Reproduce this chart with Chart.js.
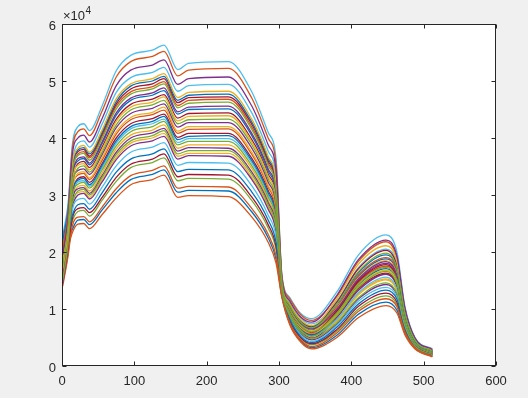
<!DOCTYPE html>
<html>
<head>
<meta charset="utf-8">
<script src="https://cdn.jsdelivr.net/npm/chart.js@4.4.1/dist/chart.umd.min.js"></script>
<style>
  body { margin: 0; background: #f0f0f0; }
  #wrap { width: 528px; height: 398px; }
</style>
</head>
<body>
<div id="wrap"><canvas id="spectra"></canvas></div>
<script>
// sample positions (channel index)
const xs = [1, 8, 14, 22, 30, 38, 55, 75, 95, 125, 141, 160, 175, 230, 262, 285, 296, 304, 315, 330, 345, 380, 410, 448, 463, 474, 488, 512];

// each spectrum, values in units of 10^4, in plotting order
const s1 = [1.80, 2.20, 2.39, 2.56, 2.57, 2.48, 2.73, 3.04, 3.27, 3.36, 3.44, 3.05, 3.08, 3.07, 2.71, 2.25, 1.87, 1.22, 0.74, 0.44, 0.32, 0.54, 0.91, 1.12, 0.98, 0.58, 0.31, 0.17];
const s2 = [1.60, 2.05, 2.33, 2.49, 2.50, 2.41, 2.65, 2.95, 3.18, 3.27, 3.35, 2.96, 2.99, 2.97, 2.62, 2.17, 1.80, 1.20, 0.72, 0.42, 0.30, 0.50, 0.85, 1.06, 0.93, 0.55, 0.30, 0.16];
const s3 = [1.55, 2.10, 2.82, 3.04, 3.06, 2.96, 3.26, 3.66, 3.91, 4.00, 4.08, 3.68, 3.73, 3.73, 3.32, 2.79, 2.38, 1.33, 0.87, 0.58, 0.47, 0.80, 1.27, 1.53, 1.34, 0.74, 0.38, 0.21];
const s4 = [1.85, 2.32, 2.79, 3.00, 3.03, 2.93, 3.22, 3.62, 3.86, 3.95, 4.03, 3.63, 3.69, 3.68, 3.28, 2.75, 2.35, 1.32, 0.86, 0.57, 0.46, 0.74, 1.18, 1.43, 1.25, 0.70, 0.36, 0.20];
const s5 = [1.75, 2.20, 2.53, 2.71, 2.73, 2.63, 2.90, 3.24, 3.48, 3.57, 3.65, 3.25, 3.29, 3.28, 2.91, 2.42, 2.04, 1.25, 0.78, 0.49, 0.37, 0.61, 1.00, 1.23, 1.08, 0.62, 0.33, 0.18];
const s6 = [1.50, 2.00, 2.71, 2.92, 2.94, 2.84, 3.13, 3.51, 3.75, 3.84, 3.92, 3.52, 3.57, 3.56, 3.17, 2.65, 2.26, 1.30, 0.84, 0.55, 0.43, 0.71, 1.14, 1.38, 1.21, 0.68, 0.35, 0.20];
const s7 = [1.45, 1.95, 2.57, 2.76, 2.78, 2.69, 2.95, 3.31, 3.54, 3.63, 3.72, 3.32, 3.36, 3.35, 2.97, 2.48, 2.09, 1.26, 0.80, 0.50, 0.39, 0.64, 1.05, 1.28, 1.12, 0.64, 0.34, 0.19];
const s8 = [1.80, 2.25, 2.63, 2.83, 2.85, 2.75, 3.03, 3.40, 3.63, 3.72, 3.81, 3.41, 3.45, 3.44, 3.06, 2.56, 2.16, 1.28, 0.82, 0.52, 0.41, 0.68, 1.09, 1.33, 1.17, 0.66, 0.34, 0.19];
const s9 = [1.40, 1.90, 2.44, 2.61, 2.62, 2.53, 2.78, 3.11, 3.34, 3.43, 3.51, 3.12, 3.15, 3.14, 2.77, 2.31, 1.93, 1.23, 0.75, 0.46, 0.34, 0.58, 0.96, 1.18, 1.04, 0.60, 0.32, 0.17];
const s10 = [1.90, 2.40, 2.92, 3.15, 3.17, 3.07, 3.38, 3.81, 4.05, 4.14, 4.23, 3.82, 3.88, 3.88, 3.47, 2.91, 2.50, 1.35, 0.91, 0.61, 0.50, 0.79, 1.25, 1.51, 1.32, 0.73, 0.37, 0.21];
const s11 = [1.45, 2.05, 2.88, 3.11, 3.13, 3.03, 3.33, 3.75, 4.00, 4.09, 4.17, 3.77, 3.83, 3.82, 3.41, 2.87, 2.46, 1.34, 0.89, 0.60, 0.49, 0.85, 1.33, 1.61, 1.40, 0.77, 0.39, 0.22];
const s12 = [2.00, 2.42, 2.85, 3.07, 3.10, 3.00, 3.30, 3.71, 3.95, 4.04, 4.13, 3.72, 3.78, 3.78, 3.37, 2.83, 2.42, 1.34, 0.88, 0.59, 0.48, 0.76, 1.20, 1.46, 1.27, 0.71, 0.36, 0.20];
const s13 = [2.05, 2.50, 2.98, 3.23, 3.25, 3.15, 3.47, 3.91, 4.16, 4.25, 4.33, 3.92, 3.99, 3.99, 3.57, 3.00, 2.58, 1.37, 0.93, 0.64, 0.53, 0.82, 1.29, 1.56, 1.36, 0.75, 0.38, 0.22];
const s14 = [1.95, 2.45, 3.04, 3.29, 3.32, 3.22, 3.54, 4.00, 4.25, 4.34, 4.42, 4.01, 4.08, 4.08, 3.65, 3.08, 2.66, 1.39, 0.95, 0.66, 0.55, 0.87, 1.36, 1.63, 1.42, 0.78, 0.39, 0.22];
const s15 = [1.55, 2.15, 3.01, 3.26, 3.29, 3.18, 3.51, 3.95, 4.20, 4.29, 4.38, 3.97, 4.03, 4.04, 3.61, 3.04, 2.62, 1.38, 0.94, 0.65, 0.54, 0.92, 1.42, 1.71, 1.49, 0.81, 0.40, 0.23];
const s16 = [1.60, 2.20, 3.09, 3.35, 3.38, 3.27, 3.60, 4.07, 4.32, 4.41, 4.49, 4.08, 4.15, 4.16, 3.72, 3.14, 2.71, 1.40, 0.96, 0.67, 0.57, 0.95, 1.47, 1.75, 1.53, 0.83, 0.41, 0.24];
const s17 = [2.00, 2.48, 3.12, 3.38, 3.41, 3.30, 3.64, 4.11, 4.36, 4.45, 4.54, 4.12, 4.20, 4.20, 3.76, 3.17, 2.75, 1.41, 0.97, 0.68, 0.58, 0.90, 1.40, 1.68, 1.47, 0.80, 0.40, 0.23];
const s18 = [1.65, 2.25, 3.17, 3.43, 3.46, 3.36, 3.70, 4.18, 4.43, 4.52, 4.60, 4.19, 4.27, 4.27, 3.83, 3.23, 2.80, 1.42, 0.98, 0.70, 0.59, 0.98, 1.51, 1.80, 1.57, 0.85, 0.42, 0.24];
const s19 = [1.50, 2.10, 2.95, 3.19, 3.22, 3.12, 3.43, 3.86, 4.11, 4.20, 4.29, 3.88, 3.94, 3.94, 3.52, 2.96, 2.55, 1.36, 0.92, 0.63, 0.52, 0.88, 1.38, 1.66, 1.44, 0.79, 0.40, 0.23];
const s20 = [2.30, 2.80, 3.59, 3.91, 3.95, 3.84, 4.23, 4.80, 5.06, 5.15, 5.24, 4.82, 4.92, 4.94, 4.45, 3.77, 3.31, 1.53, 1.12, 0.84, 0.74, 1.14, 1.73, 2.05, 1.79, 0.95, 0.46, 0.27];
const s21 = [2.05, 2.55, 3.27, 3.55, 3.59, 3.48, 3.83, 4.33, 4.59, 4.68, 4.76, 4.35, 4.43, 4.44, 3.98, 3.37, 2.93, 1.45, 1.02, 0.73, 0.63, 0.96, 1.49, 1.78, 1.55, 0.84, 0.42, 0.24];
const s22 = [1.80, 2.38, 3.32, 3.60, 3.64, 3.53, 3.89, 4.40, 4.66, 4.75, 4.83, 4.42, 4.50, 4.51, 4.05, 3.42, 2.98, 1.46, 1.03, 0.75, 0.65, 1.03, 1.58, 1.88, 1.64, 0.88, 0.43, 0.25];
const s23 = [2.10, 2.60, 3.42, 3.72, 3.76, 3.65, 4.02, 4.56, 4.81, 4.90, 4.99, 4.57, 4.66, 4.68, 4.20, 3.56, 3.11, 1.49, 1.07, 0.78, 0.68, 1.04, 1.60, 1.90, 1.66, 0.89, 0.44, 0.26];
const s24 = [1.70, 2.30, 3.24, 3.52, 3.55, 3.44, 3.79, 4.29, 4.54, 4.63, 4.72, 4.30, 4.38, 4.39, 3.94, 3.33, 2.89, 1.44, 1.01, 0.72, 0.62, 1.01, 1.55, 1.85, 1.61, 0.87, 0.43, 0.25];
const s25 = [2.25, 2.68, 3.35, 3.64, 3.67, 3.56, 3.92, 4.44, 4.70, 4.79, 4.88, 4.46, 4.54, 4.56, 4.09, 3.46, 3.02, 1.47, 1.04, 0.76, 0.66, 1.00, 1.53, 1.83, 1.59, 0.86, 0.42, 0.25];
const s26 = [2.15, 2.58, 3.20, 3.47, 3.51, 3.40, 3.74, 4.23, 4.49, 4.58, 4.66, 4.25, 4.32, 4.33, 3.89, 3.28, 2.85, 1.43, 1.00, 0.71, 0.60, 0.93, 1.44, 1.73, 1.51, 0.82, 0.41, 0.24];
const s27 = [2.20, 2.75, 3.85, 4.20, 4.25, 4.13, 4.55, 5.18, 5.45, 5.54, 5.63, 5.20, 5.31, 5.34, 4.82, 4.10, 3.62, 1.60, 1.20, 0.92, 0.83, 1.30, 1.95, 2.30, 2.00, 1.05, 0.50, 0.30];
const s28 = [1.90, 2.50, 3.46, 3.76, 3.80, 3.68, 4.06, 4.60, 4.86, 4.95, 5.04, 4.62, 4.71, 4.72, 4.25, 3.60, 3.15, 1.50, 1.08, 0.79, 0.69, 1.12, 1.71, 2.03, 1.76, 0.94, 0.46, 0.27];
const s29 = [2.20, 2.70, 3.49, 3.79, 3.83, 3.72, 4.09, 4.64, 4.91, 5.00, 5.08, 4.66, 4.75, 4.77, 4.29, 3.64, 3.18, 1.50, 1.09, 0.80, 0.70, 1.08, 1.64, 1.95, 1.70, 0.91, 0.44, 0.26];
const s30 = [2.05, 2.65, 3.77, 4.11, 4.16, 4.04, 4.46, 5.07, 5.34, 5.43, 5.52, 5.09, 5.19, 5.22, 4.71, 4.00, 3.53, 1.58, 1.18, 0.90, 0.80, 1.22, 1.84, 2.18, 1.89, 1.00, 0.48, 0.29];
const s31 = [1.85, 2.45, 3.52, 3.82, 3.87, 3.75, 4.13, 4.69, 4.95, 5.04, 5.13, 4.71, 4.80, 4.82, 4.34, 3.68, 3.22, 1.51, 1.09, 0.81, 0.71, 1.18, 1.79, 2.11, 1.84, 0.98, 0.47, 0.28];
const s32 = [1.95, 2.55, 3.68, 4.00, 4.05, 3.93, 4.33, 4.92, 5.19, 5.28, 5.37, 4.94, 5.04, 5.07, 4.57, 3.88, 3.41, 1.55, 1.14, 0.86, 0.77, 1.24, 1.87, 2.21, 1.93, 1.02, 0.49, 0.29];
const s33 = [1.75, 2.40, 3.39, 3.69, 3.73, 3.61, 3.98, 4.51, 4.77, 4.86, 4.95, 4.53, 4.61, 4.63, 4.16, 3.52, 3.07, 1.48, 1.06, 0.77, 0.67, 1.09, 1.66, 1.98, 1.72, 0.92, 0.45, 0.26];

const xTicks = [0, 100, 200, 300, 400, 500, 600];
const yTicks = [0, 1, 2, 3, 4, 5, 6];

// matlab default line colour order
const colors = ["#0072BD", "#D95319", "#EDB120", "#7E2F8E", "#77AC30", "#4DBEEE", "#A2142F"];

const allSeries = [s1, s2, s3, s4, s5, s6, s7, s8, s9, s10, s11, s12, s13, s14, s15, s16, s17, s18, s19, s20,
  s21, s22, s23, s24, s25, s26, s27, s28, s29, s30, s31, s32, s33];

const datasets = allSeries.map((s, i) => {
  return {
    data: s.map((v, j) => ({ x: xs[j], y: v })),
    borderColor: colors[i % colors.length],
    borderWidth: 1.3,
    pointRadius: 0,
    fill: false,
    cubicInterpolationMode: "monotone",
    // later series sit on top, like matlab
    order: allSeries.length - i,
  };
});

const fontFace = "'Liberation Sans', Arial, Helvetica, sans-serif";
const textColor = "#262626";

// white plot box, axes box with inward ticks, and the x10^4 exponent
const axesBox = {
  id: "axesBox",
  beforeDraw(chart) {
    const a = chart.chartArea;
    const ctx = chart.ctx;
    ctx.save();
    ctx.fillStyle = "#ffffff";
    ctx.fillRect(a.left, a.top, a.right - a.left, a.bottom - a.top);
    ctx.restore();
  },
  afterDraw(chart) {
    const a = chart.chartArea;
    const ctx = chart.ctx;
    const xs_ = chart.scales.x;
    const ys_ = chart.scales.y;
    const L = Math.round(a.left) + 0.5, R = Math.round(a.right) - 0.5;
    const T = Math.round(a.top) + 0.5, B = Math.round(a.bottom) - 0.5;
    ctx.save();
    ctx.strokeStyle = textColor;
    ctx.lineWidth = 1;
    ctx.strokeRect(L, T, R - L, B - T);
    ctx.beginPath();
    xTicks.forEach((t) => {
      const px = Math.round(xs_.getPixelForValue(t)) + 0.5;
      ctx.moveTo(px, B); ctx.lineTo(px, B - 4);
      ctx.moveTo(px, T); ctx.lineTo(px, T + 4);
    });
    yTicks.forEach((t) => {
      const py = Math.round(ys_.getPixelForValue(t)) + 0.5;
      ctx.moveTo(L, py); ctx.lineTo(L + 4, py);
      ctx.moveTo(R, py); ctx.lineTo(R - 4, py);
    });
    ctx.stroke();

    ctx.fillStyle = textColor;
    ctx.textBaseline = "alphabetic";
    ctx.textAlign = "left";
    ctx.font = "13px " + fontFace;
    ctx.fillText("\u00d710", 63, 20);
    const w = ctx.measureText("\u00d710").width;
    ctx.font = "10px " + fontFace;
    ctx.fillText("4", 63 + w + 0.5, 14);
    ctx.restore();
  },
};

new Chart(document.getElementById("spectra"), {
  type: "line",
  data: { datasets: datasets },
  options: {
    responsive: true,
    maintainAspectRatio: false,
    animation: false,
    layout: { padding: { left: 0, right: 32, top: 24, bottom: 0 } },
    plugins: { legend: { display: false }, tooltip: { enabled: false } },
    scales: {
      x: {
        type: "linear",
        min: 0,
        max: 600,
        afterBuildTicks: (scale) => { scale.ticks = xTicks.map((v) => ({ value: v })); },
        afterFit: (scale) => { scale.height = 32; },
        grid: { display: false, drawTicks: false },
        border: { display: false },
        ticks: { color: textColor, font: { family: fontFace, size: 13 }, padding: 8, maxRotation: 0 },
      },
      y: {
        type: "linear",
        min: 0,
        max: 6,
        afterBuildTicks: (scale) => { scale.ticks = yTicks.map((v) => ({ value: v })); },
        afterFit: (scale) => { scale.width = 62; },
        grid: { display: false, drawTicks: false },
        border: { display: false },
        ticks: { color: textColor, font: { family: fontFace, size: 13 }, padding: 6, labelOffset: 2 },
      },
    },
  },
  plugins: [axesBox],
});
</script>
</body>
</html>
